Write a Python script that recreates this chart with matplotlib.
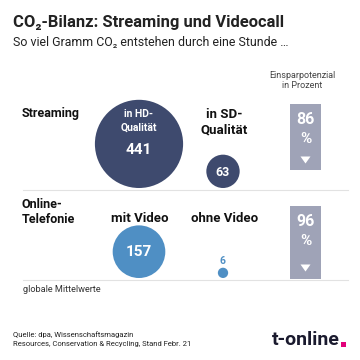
import numpy as np
import matplotlib
matplotlib.use("Agg")
import matplotlib.pyplot as plt
from matplotlib.patches import Circle, Rectangle, Polygon

plt.rcParams['font.family'] = ['Roboto', 'DejaVu Sans']

# data
rows = ["Streaming", "Online-\nTelefonie"]
big_labels = ["in HD-\nQualität", "mit Video"]
small_labels = ["in SD-\nQualität", "ohne Video"]
big_values = [441, 157]
small_values = [63, 6]
savings = [86, 96]

NAVY = "#3e4a6e"
BLUE = "#4f8fc4"
GRAY = "#9fa3b7"
LINE = "#e2e2e2"

fig = plt.figure(figsize=(3.6, 3.6), dpi=100)
ax = fig.add_axes([0, 0, 1, 1])
ax.set_xlim(0, 360)
ax.set_ylim(360, 0)
ax.axis("off")

k = 2.1  # radius per sqrt(gram)
base_y = [188, 278]
colors = [NAVY, BLUE]
box_top = [104, 206]

# title block
ax.text(13, 22, "CO₂-Bilanz: Streaming und Videocall", fontsize=11.9,
        fontweight="bold", color="#222222", va="center")
ax.text(13, 42, "So viel Gramm CO₂ entstehen durch eine Stunde …", fontsize=8.9,
        color="#222222", va="center")
ax.text(302, 75, "Einsparpotenzial", fontsize=6.5, color="#444444", ha="center", va="center")
ax.text(302, 85, "in Prozent", fontsize=6.5, color="#444444", ha="center", va="center")

for i in range(2):
    by = base_y[i]
    ax.plot([23, 348], [by + 1.5, by + 1.5], color=LINE, lw=0.8)
    ax.text(22, 114 if i == 0 else 212, rows[i], fontsize=9, fontweight="bold",
            color="#111111", va="center", linespacing=1.25)

    rb = k * np.sqrt(big_values[i])
    rs = k * np.sqrt(small_values[i])
    ax.add_patch(Circle((139, by - rb), rb, color=colors[i], lw=0))
    ax.add_patch(Circle((223, by - rs), rs, color=colors[i], lw=0))

    # savings box
    ax.add_patch(Rectangle((290, box_top[i]), 31, (by + 1 if i else 170) - box_top[i],
                           color=GRAY, lw=0))
    ax.text(305.5, box_top[i] + 16, str(savings[i]), fontsize=11.5, fontweight="bold",
            color="white", ha="center", va="center")
    ax.text(305.5, box_top[i] + 35, "%", fontsize=11, fontweight="bold",
            color="white", ha="center", va="center")
    ty = (160 if i == 0 else 268)
    ax.add_patch(Polygon([[300.5, ty - 3.5], [310.5, ty - 3.5], [305.5, ty + 3.5]],
                         closed=True, color="white", lw=0))

# row 1 labels
ax.text(139, 121, big_labels[0], fontsize=7.5, fontweight="bold", color="white",
        ha="center", va="center", linespacing=1.45)
ax.text(139, 150, str(big_values[0]), fontsize=11, fontweight="bold", color="white",
        ha="center", va="center")
ax.text(224, 122, small_labels[0], fontsize=9.5, fontweight="bold", color="#111111",
        ha="center", va="center", linespacing=1.25)
ax.text(223, 172, str(small_values[0]), fontsize=9, fontweight="bold", color="white",
        ha="center", va="center")

# row 2 labels
ax.text(140, 219, big_labels[1], fontsize=9.5, fontweight="bold", color="#111111",
        ha="center", va="center")
ax.text(225, 219, small_labels[1], fontsize=9.5, fontweight="bold", color="#111111",
        ha="center", va="center")
ax.text(139, 252, str(big_values[1]), fontsize=11, fontweight="bold", color="white",
        ha="center", va="center")
ax.text(223, 261, str(small_values[1]), fontsize=7.5, fontweight="bold", color=BLUE,
        ha="center", va="center")

ax.text(23, 290, "globale Mittelwerte", fontsize=6.6, color="#333333", va="center")

ax.text(13, 335, "Quelle: dpa, Wissenschaftsmagazin", fontsize=5.5, color="#222222",
        va="center")
ax.text(13, 344, "Resources, Conservation & Recycling, Stand Febr. 21", fontsize=5.5,
        color="#222222", va="center")
ax.text(272, 340, "t-online", fontsize=14, fontweight="bold", color="#1a1a2e",
        va="center")
ax.add_patch(Rectangle((341, 342), 4.5, 4.5, color="#e2007a", lw=0))

fig.savefig("out.png", dpi=100, facecolor="white")
